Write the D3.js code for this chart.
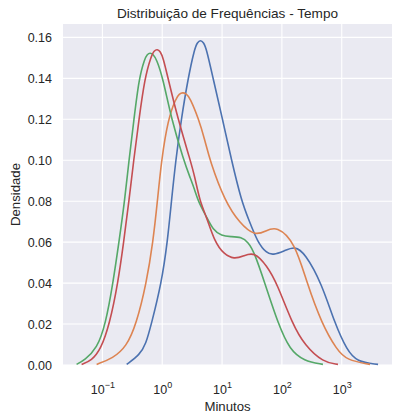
<!DOCTYPE html>
<html>
<head>
<meta charset="utf-8">
<script src="https://cdn.jsdelivr.net/npm/d3@7"></script>
<style>
  html, body { margin: 0; padding: 0; background: #ffffff; }
  svg { display: block; }
  text { font-family: "Liberation Sans", Arial, sans-serif; fill: #262626; }
</style>
</head>
<body>
<svg id="chart" width="393" height="417"></svg>
<script>
// Densidade estimada (KDE) do tempo para quatro grupos.
// Posições em log10(minutos) e densidade correspondente.
const log10MinAzul = [-0.594, -0.377, -0.275, -0.181, -0.013, 0.087, 0.154, 0.226, 0.318, 0.432, 0.539, 0.589, 0.639, 0.690, 0.740, 0.850, 1.008, 1.158, 1.325, 1.448, 1.593, 1.744, 1.854, 2.033, 2.218, 2.385, 2.664, 2.887, 3.088, 3.250, 3.607];
const densAzul     = [0.0003, 0.005, 0.010, 0.020, 0.040, 0.060, 0.080, 0.100, 0.120, 0.140, 0.1544, 0.1576, 0.1587, 0.1576, 0.1544, 0.140, 0.120, 0.100, 0.080, 0.0708, 0.060, 0.0546, 0.0537, 0.0556, 0.0581, 0.0546, 0.040, 0.020, 0.0073, 0.0016, 0.0003];

const log10MinLaranja = [-1.096, -0.823, -0.599, -0.432, -0.264, -0.154, -0.080, -0.013, 0.097, 0.226, 0.285, 0.343, 0.402, 0.460, 0.611, 0.711, 0.795, 1.046, 1.297, 1.548, 1.732, 1.911, 2.218, 2.418, 2.669, 2.921, 3.083, 3.473];
const densLaranja     = [0.0003, 0.0033, 0.0089, 0.020, 0.040, 0.060, 0.080, 0.100, 0.120, 0.1301, 0.1324, 0.1331, 0.1325, 0.1307, 0.120, 0.110, 0.100, 0.080, 0.0692, 0.063, 0.0655, 0.0679, 0.060, 0.040, 0.020, 0.0073, 0.0024, 0.0003];

const log10MinVerde = [-1.431, -1.297, -1.091, -0.946, -0.823, -0.723, -0.628, -0.556, -0.472, -0.388, -0.293, -0.249, -0.204, -0.154, -0.095, 0.013, 0.154, 0.360, 0.460, 0.544, 0.599, 0.740, 0.850, 0.991, 1.146, 1.325, 1.436, 1.536, 1.715, 1.938, 2.134, 2.368, 2.686];
const densVerde     = [0.0003, 0.0024, 0.0080, 0.020, 0.040, 0.060, 0.080, 0.100, 0.120, 0.140, 0.1496, 0.1517, 0.1525, 0.1518, 0.1494, 0.140, 0.120, 0.100, 0.092, 0.0855, 0.080, 0.0724, 0.0659, 0.063, 0.0627, 0.0625, 0.060, 0.0553, 0.040, 0.020, 0.0073, 0.002, 0.0003];

const log10MinVermelho = [-1.347, -1.180, -1.029, -0.879, -0.740, -0.644, -0.556, -0.477, -0.388, -0.293, -0.184, -0.134, -0.084, -0.033, 0.017, 0.097, 0.264, 0.469, 0.544, 0.628, 0.740, 0.879, 1.029, 1.202, 1.364, 1.536, 1.749, 1.916, 2.176, 2.385, 2.691, 2.937];
const densVermelho     = [0.0003, 0.0022, 0.0075, 0.020, 0.040, 0.060, 0.080, 0.100, 0.120, 0.140, 0.151, 0.1535, 0.1543, 0.1532, 0.150, 0.140, 0.120, 0.100, 0.092, 0.080, 0.0724, 0.060, 0.0542, 0.0516, 0.0533, 0.0553, 0.0485, 0.040, 0.020, 0.0095, 0.0013, 0.0003];

const cores = { azul: "#4c72b0", laranja: "#dd8452", verde: "#55a868", vermelho: "#c44e52" };

const series = [
  { lx: log10MinAzul,     y: densAzul,     cor: cores.azul },
  { lx: log10MinLaranja,  y: densLaranja,  cor: cores.laranja },
  { lx: log10MinVerde,    y: densVerde,    cor: cores.verde },
  { lx: log10MinVermelho, y: densVermelho, cor: cores.vermelho }
];

const yTicks = [0.00, 0.02, 0.04, 0.06, 0.08, 0.10, 0.12, 0.14, 0.16];
const xTicks = [0.1, 1, 10, 100, 1000];
const xExpoentes = ["\u22121", "0", "1", "2", "3"];

const titulo = "Distribuição de Frequências - Tempo";
const rotuloX = "Minutos";
const rotuloY = "Densidade";

const svg = d3.select("#chart");
const m = { left: 63, right: 392, top: 24, bottom: 365 };

const x = d3.scaleLog()
  .domain([Math.pow(10, -1.658), Math.pow(10, 3.84)])
  .range([m.left, m.right]);
const y = d3.scaleLinear()
  .domain([0, 0.16654])
  .range([m.bottom, m.top]);

// fundo da área de plotagem
svg.append("rect")
  .attr("x", m.left).attr("y", m.top)
  .attr("width", m.right - m.left).attr("height", m.bottom - m.top)
  .attr("fill", "#eaeaf2");

// grade
const grade = svg.append("g").attr("stroke", "#ffffff").attr("stroke-width", 1.1);
grade.selectAll("line.h").data(yTicks).join("line")
  .attr("class", "h")
  .attr("x1", m.left).attr("x2", m.right)
  .attr("y1", d => y(d)).attr("y2", d => y(d));
grade.selectAll("line.v").data(xTicks).join("line")
  .attr("class", "v")
  .attr("x1", d => x(d)).attr("x2", d => x(d))
  .attr("y1", m.top).attr("y2", m.bottom);

// eixo y
const yAxis = d3.axisLeft(y).tickValues(yTicks).tickFormat(d3.format(".2f")).tickSize(0).tickPadding(11);
const gy = svg.append("g").attr("transform", `translate(${m.left},0)`).call(yAxis);
gy.select(".domain").remove();
gy.selectAll("text").attr("font-size", 12.5).attr("fill", "#262626")
  .attr("font-family", "'Liberation Sans', Arial, sans-serif");

// eixo x (log) com expoentes
const xAxis = d3.axisBottom(x).tickValues(xTicks).tickFormat(() => "").tickSize(0);
const gx = svg.append("g").attr("transform", `translate(0,${m.bottom})`).call(xAxis);
gx.select(".domain").remove();
gx.selectAll(".tick text").remove();
gx.selectAll(".tick").each(function (d, i) {
  const t = d3.select(this).append("text")
    .attr("y", 29)
    .attr("text-anchor", "middle")
    .attr("font-size", 12.5)
    .attr("fill", "#262626");
  t.append("tspan").text("10");
  t.append("tspan").attr("dy", -6).attr("font-size", 9).text(xExpoentes[i]);
});

// curvas de densidade (spline suavizada)
const linha = d3.line()
  .x(d => x(Math.pow(10, d[0])))
  .y(d => y(d[1]))
  .curve(d3.curveBasis);

svg.append("g").selectAll("path").data(series).join("path")
  .attr("d", s => linha(d3.zip(s.lx, s.y)))
  .attr("fill", "none")
  .attr("stroke", s => s.cor)
  .attr("stroke-width", 1.6)
  .attr("stroke-linejoin", "round");

// títulos
svg.append("text")
  .attr("x", (m.left + m.right) / 2).attr("y", 18)
  .attr("text-anchor", "middle").attr("font-size", 13.6)
  .text(titulo);
svg.append("text")
  .attr("x", (m.left + m.right) / 2).attr("y", 411)
  .attr("text-anchor", "middle").attr("font-size", 13.2)
  .text(rotuloX);
svg.append("text")
  .attr("transform", `translate(20,${(m.top + m.bottom) / 2}) rotate(-90)`)
  .attr("text-anchor", "middle").attr("font-size", 13.2)
  .text(rotuloY);
</script>
</body>
</html>
